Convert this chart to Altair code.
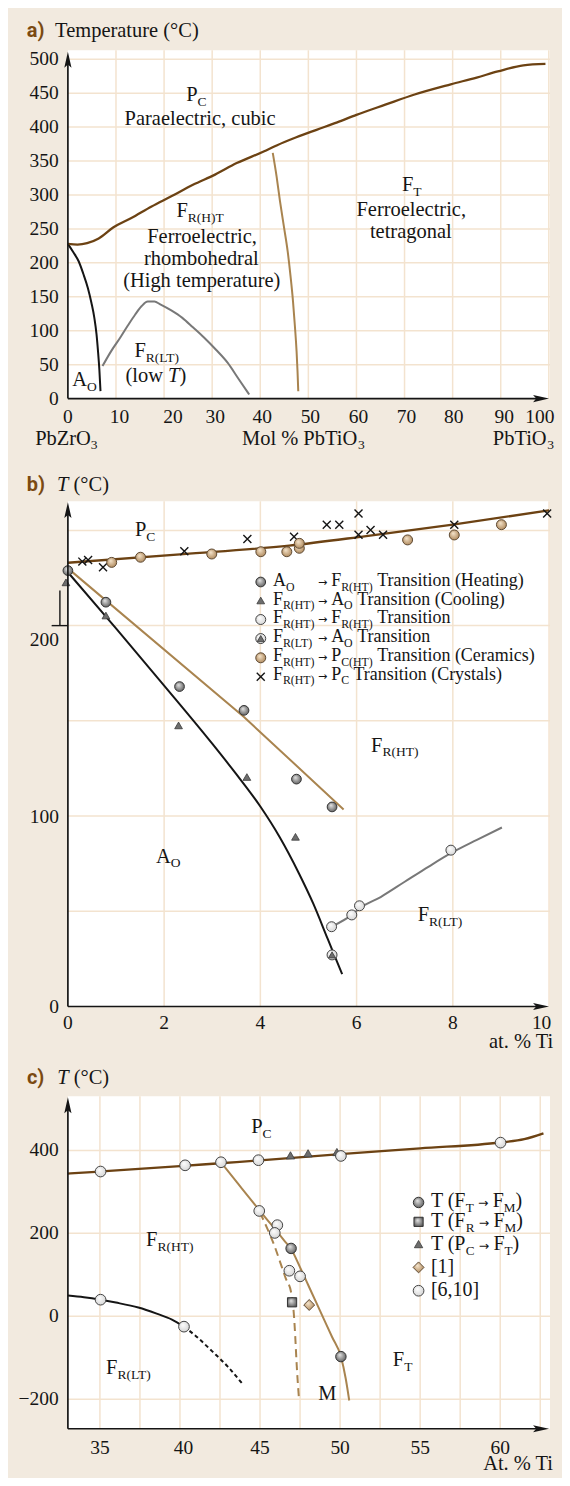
import altair as alt
import pandas as pd

# ---------------- panel (a): PbZrO3 - PbTiO3 phase diagram ----------------
A_CURIE_X = [0, 2, 4, 6.4, 9.4, 13.2, 17.4, 21.5, 26, 30.6, 35.1, 40.7, 43.4, 47.5, 51.7, 56, 60, 66, 72.1, 79.6, 85, 89.4, 94.7, 99.3]
A_CURIE_T = [228, 227, 229, 236, 252, 266, 283, 298, 315, 330, 347, 364, 373, 385, 396, 407, 418, 433, 448, 463, 473, 482, 491, 493]
A_AO_X = [0, 1.1, 2.26, 3.2, 4.15, 4.9, 5.5, 5.95, 6.26, 6.55, 6.78]
A_AO_T = [228, 216, 202, 184, 163, 141, 119, 95, 70, 42, 11]
A_LT_X = [7.2, 9, 10.9, 12.5, 14, 15.3, 16.6, 18, 19.2, 21.5, 23.8, 26, 28.3, 30.8, 33.2, 35.5, 37.7]
A_LT_T = [48, 70, 90, 108, 124, 136, 143, 143, 139, 130, 119, 105, 90, 72, 53, 29, 6]
A_MPB_X = [42.6, 43.4, 44.1, 44.9, 45.7, 46.3, 46.8, 47.2, 47.55, 47.75, 47.9]
A_MPB_T = [362, 327, 291, 254, 217, 180, 144, 107, 70, 40, 11]
A_XGRID = [10, 20, 30, 40, 50, 60, 70, 80, 90, 100]
A_YGRID = [50, 100, 150, 200, 250, 300, 350, 400, 450, 500]
A_XTICKS = [0, 10, 20, 30, 40, 50, 60, 70, 80, 90, 100]
A_YTICKS = [0, 50, 100, 150, 200, 250, 300, 350, 400, 450, 500]

# ---------------- panel (b): low-Ti region ----------------
B_CURIE_X = [0, 2.4, 4.6, 6.2, 8, 10]
B_CURIE_T = [233, 237.5, 242, 247, 253, 260.5]
B_AO_X = [0, 1, 2, 3, 3.5, 4.0, 4.4, 4.8, 5.1, 5.4, 5.7]
B_AO_T = [228, 198.5, 168.5, 138, 122, 105, 89, 70, 54, 35.5, 17]
B_TAN_X = [0.05, 3.66, 5.73]
B_TAN_T = [229, 152, 103.5]
B_LT_X = [5.48, 5.9, 6.06, 6.5, 7.0, 7.5, 7.96, 8.5, 9.02]
B_LT_T = [41.9, 48.1, 51.5, 57.5, 65.5, 73.5, 80.5, 87.5, 94]
B_HEAT_X = [0, 0.79, 2.32, 3.66, 4.75, 5.49]
B_HEAT_T = [228.9, 212.3, 168, 155.5, 119.4, 104.8]
B_COOL_X = [-0.04, 0.79, 2.3, 3.72, 4.73]
B_COOL_T = [222.7, 205.3, 147.6, 120.5, 89.1]
B_HTLT_X = [5.48, 5.9, 6.06, 7.96]
B_HTLT_T = [41.9, 48.1, 52.9, 82.1]
B_LTAO_X = [5.49]
B_LTAO_T = [27.1]
B_CER_X = [0.91, 1.51, 2.99, 4.01, 4.55, 4.81, 4.81, 7.06, 8.03, 9.01]
B_CER_T = [233.2, 235.9, 237.6, 238.8, 238.8, 240.6, 243.2, 245, 247.6, 253]
B_CRY_X = [0.30, 0.42, 0.73, 2.42, 3.73, 4.70, 5.38, 5.64, 6.04, 6.04, 6.29, 6.55, 8.03, 9.96]
B_CRY_T = [233.6, 234.5, 230.6, 239, 245.5, 246.7, 253, 253, 258.9, 247.7, 250.2, 247.7, 253, 258.9]
B_XGRID = [2, 4, 6, 8, 10]
B_YGRID = [50, 100, 150, 200, 250]
B_XTICKS = [0, 2, 4, 6, 8, 10]
B_YTICKS = [0, 100, 200]

# ---------------- panel (c): MPB region ----------------
C_CURIE_X = [33, 35, 40, 42.5, 45, 50, 55, 60, 61.5, 62.7]
C_CURIE_T = [344, 349, 362, 369, 376, 391, 405, 419, 427, 441]
C_MPB_X = [42.56, 43.6, 44.6, 45.4, 46.0, 46.5, 46.94, 47.5, 48.0, 48.5, 49.0, 49.5, 50.05, 50.35, 50.57]
C_MPB_T = [371, 321, 273, 235, 207, 183, 162, 118, 76, 34, -8, -50, -97, -150, -203]
C_DASH_X = [45.0, 45.47, 45.9, 46.26, 46.6, 46.94, 47.12, 47.2, 47.28, 47.44]
C_DASH_T = [250, 210, 170, 130, 92, 58, 1, -50, -111, -203]
C_LT_X = [33, 34, 35.04, 36, 37.4, 38.5, 39.5, 40.25]
C_LT_T = [50, 46, 40, 33, 21, 7, -8, -25]
C_LTD_X = [40.25, 41.0, 42.0, 43.0, 43.9]
C_LTD_T = [-25, -48, -84, -122, -163]
C_REF_X = [35.04, 40.32, 42.56, 44.9, 50.05, 60.02, 44.95, 46.08, 45.92, 46.83, 47.5, 35.04, 40.25]
C_REF_T = [349, 364, 371.4, 376.3, 386.6, 418.7, 254, 219.7, 201, 109.8, 96.3, 40, -25]
C_FTFM_X = [46.94, 50.05]
C_FTFM_T = [163.6, -97.2]
C_FRFM_X = [47.0]
C_FRFM_T = [33.7]
C_PCFT_X = [46.9, 48.0, 49.8]
C_PCFT_T = [388, 393, 396]
C_REF1_X = [48.07]
C_REF1_T = [27.2]
C_XGRID = [35, 37.5, 40, 42.5, 45, 47.5, 50, 52.5, 55, 57.5, 60, 62.5]
C_YGRID = [-200, 0, 200, 400]
C_XTICKS = [35, 40, 45, 50, 55, 60]
C_YTICKS = [-200, 0, 200, 400]

# ---------------- style ----------------
BEIGE = "#f2eadf"
GRID = "#f3e3cf"
INK = "#151515"
DBROWN = "#6c4213"
TAN = "#a9844f"
GRAYL = "#787878"
HEAD = "#7b4a12"
SERIF = "Liberation Serif"
HEADFONT = "Roboto"
W = 483
SPACING = 95
FS = 20.5     # region / axis-title text
FT = 19.5     # tick labels


class Pan:
    def __init__(self, h, xd, yd, white_top, axis_px, tip):
        self.h, self.xd, self.yd = h, xd, yd
        self.wt, self.axis, self.tip = white_top, axis_px, tip

    def xs(self):
        return alt.Scale(domain=list(self.xd), nice=False, zero=False)

    def ys(self):
        return alt.Scale(domain=list(self.yd), nice=False, zero=False)

    def dx(self, px):
        return px * (self.xd[1] - self.xd[0]) / W

    def dy(self, px):
        return px * (self.yd[1] - self.yd[0]) / self.h

    def X(self, f="x"):
        return alt.X(f"{f}:Q", scale=self.xs(), axis=None)

    def Y(self, f="y"):
        return alt.Y(f"{f}:Q", scale=self.ys(), axis=None)


PA = Pan(355, (0, 100.25), (-8.8, 513.2), 0, 349, 1.5)
PB = Pan(508, (0, 10.02), (0, 266.25), 1.7, 508, 2.7)
PC = Pan(328, (33, 63.11), (-271.2, 518.2), -5, 328, -4)

TW = {' ': 250, '!': 333, '%': 833, '(': 333, ')': 333, ',': 250, '-': 333, '.': 250,
      '/': 278, ':': 278, '[': 333, ']': 333, '°': 400, '−': 564,
      'A': 722, 'B': 667, 'C': 667, 'D': 722, 'E': 611, 'F': 556, 'G': 722, 'H': 722,
      'I': 333, 'J': 389, 'K': 722, 'L': 611, 'M': 889, 'N': 722, 'O': 722, 'P': 556,
      'Q': 722, 'R': 667, 'S': 556, 'T': 611, 'U': 722, 'V': 722, 'W': 944, 'X': 722,
      'Y': 722, 'Z': 611, 'a': 444, 'b': 500, 'c': 444, 'd': 500, 'e': 444, 'f': 333,
      'g': 500, 'h': 500, 'i': 278, 'j': 278, 'k': 500, 'l': 278, 'm': 778, 'n': 500,
      'o': 500, 'p': 500, 'q': 500, 'r': 333, 's': 389, 't': 278, 'u': 500, 'v': 500,
      'w': 722, 'x': 500, 'y': 500, 'z': 444}


def tw(s, size, italic=False):
    tot = 0
    for ch in s:
        if italic and ch == 'T':
            tot += 556
        else:
            tot += TW.get(ch, 500)
    return tot / 1000.0 * size


SUBF = 0.66
SUBDY = 0.24


def piece(items, x, y, text, size, align="left", baseline="alphabetic", fstyle="normal",
          font=SERIF, weight="normal", color=INK):
    items.append(dict(x=x, y=y, text=text, size=size, align=align,
                      baseline=baseline, fstyle=fstyle, font=font, weight=weight, color=color))


def rich(items, pn, x, y, parts, size=FS, anchor="left", color=INK):
    ws = []
    for t, st in parts:
        if st == "s":
            ws.append(tw(t, size * SUBF))
        elif st == "a":
            ws.append(0.94 * size)
        else:
            ws.append(tw(t, size, st == "i"))
    total = sum(ws)
    cur = {"left": 0.0, "center": -total / 2.0, "right": -total}[anchor]
    for (t, st), w in zip(parts, ws):
        s = size * SUBF if st == "s" else size
        lead = len(t) - len(t.lstrip(" "))
        start = cur + lead * 0.25 * s
        txt = t.strip(" ")
        if st == "s":
            piece(items, x + pn.dx(start), y - pn.dy(size * SUBDY), txt, s, color=color)
        elif st == "a":
            piece(items, x + pn.dx(cur + w / 2.0), y, txt, size * 0.62, align="center",
                  font="DejaVu Sans", color=color)
        elif st == "i":
            piece(items, x + pn.dx(start), y, txt, s, fstyle="italic", color=color)
        else:
            piece(items, x + pn.dx(start), y, txt, s, color=color)
        cur += w


def text_layers(items, pn):
    df = pd.DataFrame(items)
    out = []
    for key, g in df.groupby(["align", "baseline", "fstyle", "font", "weight"]):
        align, baseline, fstyle, font, weight = key
        out.append(
            alt.Chart(g.reset_index(drop=True)).mark_text(
                align=align, baseline=baseline, fontStyle=fstyle, font=font, fontWeight=weight
            ).encode(
                x=pn.X(), y=pn.Y(), text="text:N",
                size=alt.Size("size:Q", scale=None, legend=None),
                color=alt.Color("color:N", scale=None, legend=None),
            )
        )
    return out


def line(pn, xs, ys, color, width=2.0, dash=None, interp="monotone"):
    df = pd.DataFrame({"x": xs, "y": ys})
    kw = dict(color=color, strokeWidth=width, interpolate=interp)
    if dash:
        kw["strokeDash"] = dash
    return alt.Chart(df).mark_line(**kw).encode(x=pn.X(), y=pn.Y())


def grad(c0, c1):
    return {"gradient": "radial", "x1": 0.38, "y1": 0.32, "r1": 0.0, "x2": 0.5, "y2": 0.5, "r2": 0.62,
            "stops": [{"offset": 0, "color": c0}, {"offset": 1, "color": c1}]}


SPH_GRAY = grad("#e6e6e6", "#4e4e4e")
SPH_LIGHT = grad("#ffffff", "#cfcfcf")
SPH_TAN = grad("#f7e7cf", "#a57c4c")
TRI_FILL = "#6d6d6d"
XPATH = "M-1,-1L1,1M-1,1L1,-1"


def pts(pn, xs, ys, shape, size, fill=None, stroke="#333333", sw=1.0):
    df = pd.DataFrame({"x": xs, "y": ys})
    if fill is None:
        mk = dict(shape=shape, size=size, filled=False, stroke=stroke, strokeWidth=sw, opacity=1)
    else:
        mk = dict(shape=shape, size=size, filled=True, fill=fill, stroke=stroke,
                  strokeWidth=sw, opacity=1)
    return alt.Chart(df).mark_point(**mk).encode(x=pn.X(), y=pn.Y())


ONE = pd.DataFrame({"k": [0]})


def base_layers(pn):
    white = alt.Chart(ONE).mark_rect(color="white").encode(
        x=alt.value(0), x2=alt.value(W), y=alt.value(pn.wt), y2=alt.value(pn.axis))
    return [white]


def grid_layers(pn, xv, yv):
    g1 = alt.Chart(pd.DataFrame({"v": xv})).mark_rule(color=GRID, strokeWidth=1.5).encode(
        x=pn.X("v"), y=alt.value(pn.wt), y2=alt.value(pn.axis))
    g2 = alt.Chart(pd.DataFrame({"v": yv})).mark_rule(color=GRID, strokeWidth=1.5).encode(
        y=pn.Y("v"), x=alt.value(0), x2=alt.value(W))
    return [g1, g2]


def axis_layers(pn):
    yax = alt.Chart(ONE).mark_rule(color=INK, strokeWidth=1.7).encode(
        x=alt.value(0), y=alt.value(pn.axis), y2=alt.value(pn.tip + 10))
    xax = alt.Chart(ONE).mark_rule(color=INK, strokeWidth=1.7).encode(
        y=alt.value(pn.axis), x=alt.value(0), x2=alt.value(W - 11))
    up = alt.Chart(ONE).mark_point(shape="M0,-1L0.45,1L0,0.6L-0.45,1Z", size=256, filled=True,
                                   fill=INK, strokeWidth=0, opacity=1).encode(
        x=alt.value(0), y=alt.value(pn.tip + 8))
    rt = alt.Chart(ONE).mark_point(shape="M1,0L-1,0.45L-0.6,0L-1,-0.45Z", size=256, filled=True,
                                   fill=INK, strokeWidth=0, opacity=1).encode(
        x=alt.value(W - 9), y=alt.value(pn.axis))
    return [yax, xax, up, rt]


def corner(x, y):
    return alt.Chart(ONE).mark_rect(color=BEIGE).encode(
        x=alt.value(x), x2=alt.value(x + 1), y=alt.value(y), y2=alt.value(y + 1))


# ======================= panel (a) =======================
ta = []
piece(ta, -8.53, 532.4, "a)", 20, font=HEADFONT, weight="bold", color=HEAD)
piece(ta, -2.66, 532.4, "Temperature (°C)", FS)
for v in A_YTICKS:
    piece(ta, -1.89, v, str(v), FT, align="right", baseline="middle")
A_XNUDGE = {0: 0, 10: 3.6, 20: 9, 30: 3, 40: 2, 50: 2, 60: 2, 70: 2, 80: 1, 90: 3.6, 100: -9}
for v in A_XTICKS:
    piece(ta, v + PA.dx(A_XNUDGE[v]), -36.3, str(v), FT, align="center")
rich(ta, PA, -6.81, -67.6, [("PbZrO", "n"), ("3", "s")])
rich(ta, PA, 36.2, -67.6, [("Mol % PbTiO", "n"), ("3", "s")])
rich(ta, PA, 101.1, -67.6, [("PbTiO", "n"), ("3", "s")], anchor="right")
rich(ta, PA, 24.6, 438, [("P", "n"), ("C", "s")])
rich(ta, PA, 27.5, 403, [("Paraelectric, cubic", "n")], anchor="center")
rich(ta, PA, 27.5, 267, [("F", "n"), ("R(H)T", "s")], anchor="center")
rich(ta, PA, 27.9, 230, [("Ferroelectric,", "n")], anchor="center")
rich(ta, PA, 27.75, 197, [("rhombohedral", "n")], anchor="center")
rich(ta, PA, 27.85, 164, [("(High temperature)", "n")], anchor="center")
rich(ta, PA, 18.6, 61, [("F", "n"), ("R(LT)", "s")], anchor="center")
rich(ta, PA, 18.3, 24, [("(low", "n"), (" T", "i"), (")", "n")], anchor="center")
rich(ta, PA, 0.9, 18, [("A", "n"), ("O", "s")])
rich(ta, PA, 71.5, 306, [("F", "n"), ("T", "s")], anchor="center")
rich(ta, PA, 71.4, 269, [("Ferroelectric,", "n")], anchor="center")
rich(ta, PA, 71.3, 236, [("tetragonal", "n")], anchor="center")

layers_a = (base_layers(PA) + grid_layers(PA, A_XGRID, A_YGRID) + [
    line(PA, A_LT_X, A_LT_T, GRAYL, 2.0),
    line(PA, A_AO_X, A_AO_T, INK, 2.0),
    line(PA, A_MPB_X, A_MPB_T, TAN, 2.0),
    line(PA, A_CURIE_X, A_CURIE_T, DBROWN, 2.3),
] + axis_layers(PA) + text_layers(ta, PA) + [corner(-59.3, -41)])
panel_a = alt.layer(*layers_a).properties(width=W, height=PA.h)

# ======================= panel (b) =======================
tb = []
piece(tb, -0.853, 270.6, "b)", 20, font=HEADFONT, weight="bold", color=HEAD)
rich(tb, PB, -0.226, 270.6, [("T", "i"), (" (°C)", "n")])
B_YLAB_POS = {0: 0, 100: 99.7, 200: 192.6}
for v in B_YTICKS:
    piece(tb, -0.184, B_YLAB_POS[v], str(v), FT, align="right", baseline="middle")
for v in B_XTICKS:
    piece(tb, v - (0.155 if v == 10 else 0), -12.05, str(v), FT, align="center")
rich(tb, PB, 10.108, -21.65, [("at. % Ti", "n")], anchor="right")
rich(tb, PB, 1.394, 246.9, [("P", "n"), ("C", "s")])
rich(tb, PB, 6.30, 133.9, [("F", "n"), ("R(HT)", "s")])
rich(tb, PB, 1.83, 75.6, [("A", "n"), ("O", "s")])
rich(tb, PB, 7.27, 44.7, [("F", "n"), ("R(LT)", "s")])

LEG_B_FIRST = [[("A", "n"), ("O", "s")], [("F", "n"), ("R(HT)", "s")], [("F", "n"), ("R(HT)", "s")],
               [("F", "n"), ("R(LT)", "s")], [("F", "n"), ("R(HT)", "s")], [("F", "n"), ("R(HT)", "s")]]
LEG_B_SECOND = [[("F", "n"), ("R(HT)", "s"), (" Transition (Heating)", "n")],
                [("A", "n"), ("O", "s"), (" Transition (Cooling)", "n")],
                [("F", "n"), ("R(HT)", "s"), (" Transition", "n")],
                [("A", "n"), ("O", "s"), (" Transition", "n")],
                [("P", "n"), ("C(HT)", "s"), (" Transition (Ceramics)", "n")],
                [("P", "n"), ("C", "s"), (" Transition (Crystals)", "n")]]
LEG_B_BASE = [220.7, 210.9, 201.2, 191.2, 181.3, 171.4]
LEG_B_MARK = [222.9, 213.2, 203.2, 193.2, 183.1, 173.1]
LB = 18
for f, s, yb in zip(LEG_B_FIRST, LEG_B_SECOND, LEG_B_BASE):
    rich(tb, PB, 4.261, yb, f, LB)
    piece(tb, 5.295, yb, "→", LB * 0.62, align="center", font="DejaVu Sans")
    rich(tb, PB, 5.471, yb, s, LB)
LMX = 4.008

layers_b = (base_layers(PB) + grid_layers(PB, B_XGRID, B_YGRID) + [
    line(PB, B_LT_X, B_LT_T, GRAYL, 2.0),
    line(PB, B_AO_X, B_AO_T, INK, 2.0),
    line(PB, B_TAN_X, B_TAN_T, TAN, 2.0, interp="linear"),
    line(PB, B_CURIE_X, B_CURIE_T, DBROWN, 2.3),
    pts(PB, B_CRY_X, B_CRY_T, XPATH, 64, None, INK, 1.4),
    pts(PB, B_CER_X, B_CER_T, "circle", 100, SPH_TAN, "#5e4a34", 1.0),
    pts(PB, B_HEAT_X, B_HEAT_T, "circle", 95, SPH_GRAY, "#333333", 1.0),
    pts(PB, B_COOL_X, B_COOL_T, "triangle-up", 60, TRI_FILL, "#3a3a3a", 0.8),
    pts(PB, B_HTLT_X, B_HTLT_T, "circle", 100, SPH_LIGHT, "#444444", 1.0),
    pts(PB, B_LTAO_X, B_LTAO_T, "circle", 100, SPH_LIGHT, "#444444", 1.0),
    pts(PB, B_LTAO_X, B_LTAO_T, "triangle-up", 50, TRI_FILL, "#3a3a3a", 0.8),
    # legend markers
    pts(PB, [LMX], [LEG_B_MARK[0]], "circle", 95, SPH_GRAY, "#333333", 1.0),
    pts(PB, [LMX], [LEG_B_MARK[1]], "triangle-up", 60, TRI_FILL, "#3a3a3a", 0.8),
    pts(PB, [LMX], [LEG_B_MARK[2]], "circle", 100, SPH_LIGHT, "#444444", 1.0),
    pts(PB, [LMX], [LEG_B_MARK[3]], "circle", 100, SPH_LIGHT, "#444444", 1.0),
    pts(PB, [LMX], [LEG_B_MARK[3]], "triangle-up", 50, TRI_FILL, "#3a3a3a", 0.8),
    pts(PB, [LMX], [LEG_B_MARK[4]], "circle", 100, SPH_TAN, "#5e4a34", 1.0),
    pts(PB, [LMX], [LEG_B_MARK[5]], XPATH, 64, None, INK, 1.4),
    # small bracket at the 200 mark
    alt.Chart(pd.DataFrame({"x": [-0.166], "y": [200], "y2": [218.4]})).mark_rule(
        color=INK, strokeWidth=1.4).encode(x=PB.X(), y=PB.Y(), y2="y2:Q"),
    alt.Chart(pd.DataFrame({"x": [-0.338], "x2": [0], "y": [200]})).mark_rule(
        color=INK, strokeWidth=1.4).encode(x=PB.X(), x2="x2:Q", y=PB.Y()),
] + axis_layers(PB) + text_layers(tb, PB))
panel_b = alt.layer(*layers_b).properties(width=W, height=PB.h)

# ======================= panel (c) =======================
tc = []
piece(tc, 30.44, 559.1, "c)", 20, font=HEADFONT, weight="bold", color=HEAD)
rich(tc, PC, 32.33, 559.1, [("T", "i"), (" (°C)", "n")])
for v in C_YTICKS:
    piece(tc, 32.43, v, str(v).replace("-", "−"), FT, align="right", baseline="middle")
for v in C_XTICKS:
    piece(tc, v + (0.22 if v == 40 else 0), -331.4, str(v), FT, align="center")
rich(tc, PC, 63.37, -371.6, [("At. % Ti", "n")], anchor="right")
rich(tc, PC, 44.45, 442.8, [("P", "n"), ("C", "s")])
rich(tc, PC, 37.88, 168.5, [("F", "n"), ("R(HT)", "s")])
rich(tc, PC, 35.38, -138.9, [("F", "n"), ("R(LT)", "s")])
rich(tc, PC, 53.29, -118.9, [("F", "n"), ("T", "s")])
rich(tc, PC, 48.64, -200.7, [("M", "n")])
LEG_C = [[("T (F", "n"), ("T", "s"), ("→", "a"), ("F", "n"), ("M", "s"), (")", "n")],
         [("T (F", "n"), ("R", "s"), ("→", "a"), ("F", "n"), ("M", "s"), (")", "n")],
         [("T (P", "n"), ("C", "s"), ("→", "a"), ("F", "n"), ("T", "s"), (")", "n")],
         [("[1]", "n")],
         [("[6,10]", "n")]]
LEG_C_BASE = [262.3, 214.2, 159.6, 104.2, 49.6]
LEG_C_MARK = [274.4, 227.7, 174.0, 117.9, 61.6]
for parts, yb in zip(LEG_C, LEG_C_BASE):
    rich(tc, PC, 55.67, yb, parts, 20)
LCX = 54.9

layers_c = (base_layers(PC) + grid_layers(PC, C_XGRID, C_YGRID) + [
    line(PC, C_LT_X, C_LT_T, INK, 2.0),
    line(PC, C_LTD_X, C_LTD_T, INK, 2.0, [4, 3]),
    line(PC, C_DASH_X, C_DASH_T, TAN, 2.0, [8, 5]),
    line(PC, C_MPB_X, C_MPB_T, TAN, 2.0),
    line(PC, C_CURIE_X, C_CURIE_T, DBROWN, 2.3),
    pts(PC, C_PCFT_X, C_PCFT_T, "triangle-up", 70, TRI_FILL, "#3a3a3a", 0.8),
    pts(PC, C_REF_X, C_REF_T, "circle", 115, SPH_LIGHT, "#444444", 1.0),
    pts(PC, C_FTFM_X, C_FTFM_T, "circle", 110, SPH_GRAY, "#333333", 1.0),
    pts(PC, C_FRFM_X, C_FRFM_T, "square", 85, SPH_GRAY, "#333333", 1.0),
    pts(PC, C_REF1_X, C_REF1_T, "diamond", 120, SPH_TAN, "#5e4a34", 1.0),
    # legend markers
    pts(PC, [LCX], [LEG_C_MARK[0]], "circle", 110, SPH_GRAY, "#333333", 1.0),
    pts(PC, [LCX], [LEG_C_MARK[1]], "square", 85, SPH_GRAY, "#333333", 1.0),
    pts(PC, [LCX], [LEG_C_MARK[2]], "triangle-up", 70, TRI_FILL, "#3a3a3a", 0.8),
    pts(PC, [LCX], [LEG_C_MARK[3]], "diamond", 120, SPH_TAN, "#5e4a34", 1.0),
    pts(PC, [LCX], [LEG_C_MARK[4]], "circle", 115, SPH_LIGHT, "#444444", 1.0),
] + axis_layers(PC) + text_layers(tc, PC) + [corner(493.7, 375)])
panel_c = alt.layer(*layers_c).properties(width=W, height=PC.h)

chart = alt.vconcat(panel_a, panel_b, panel_c, spacing=SPACING, bounds="flush").properties(
    padding=0, background=BEIGE
).configure_view(strokeWidth=0)

chart.save("out.html", embed_options={"renderer": "svg", "actions": False})
